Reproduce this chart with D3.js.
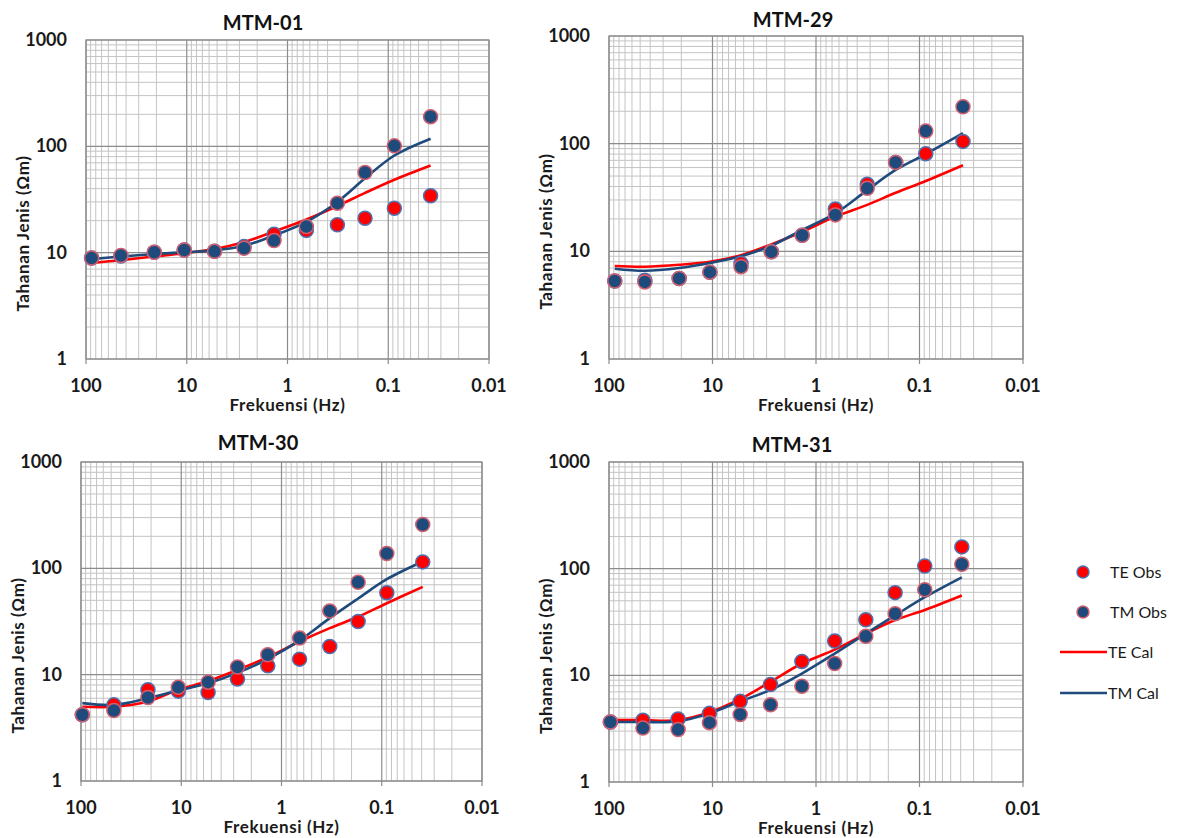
<!DOCTYPE html>
<head>
<meta charset="utf-8">
<style>
  body { margin: 0; background: #fff; }
  text { font-family: Lato, "Open Sans", sans-serif; }
</style>
</head>
<body>
<div id="chart"></div>
<script src="https://cdnjs.cloudflare.com/ajax/libs/d3/7.8.5/d3.min.js"></script>
<script>
var freqA = [88, 45, 21, 10.6, 5.3, 2.7, 1.36, 0.65, 0.32, 0.17, 0.087, 0.038];
var freqB = [97, 47, 21.5, 10.7, 5.4, 2.75, 1.37, 0.66, 0.33, 0.172, 0.089, 0.039];

var xTickLabels = [100, 10, 1, 0.1, 0.01];
var yTickLabels = [1, 10, 100, 1000];

var seriesNames = ['TE Obs', 'TM Obs', 'TE Cal', 'TM Cal'];

// MTM-01
var mtm01TeObs = [8.9, 9.3, 10.1, 10.6, 10.3, 11.4, 14.9, 16.2, 18.3, 21.1, 26.2, 34.3];
var mtm01TmObs = [8.9, 9.4, 10.1, 10.6, 10.3, 11.0, 13.0, 17.6, 29.2, 56.7, 101, 190];
var mtm01TeCal = [8.0, 8.5, 9.2, 9.9, 10.8, 12.6, 15.8, 20.5, 27.5, 36.5, 48.5, 66];
var mtm01TmCal = [8.7, 9.2, 9.7, 10.1, 10.5, 11.6, 14.5, 19.5, 30, 50, 82, 118];

// MTM-29
var mtm29TeObs = [5.3, 5.4, 5.6, 6.4, 7.7, 9.9, 14.1, 24.7, 41.9, 67, 80.7, 105];
var mtm29TmObs = [5.3, 5.2, 5.6, 6.4, 7.2, 9.9, 14.1, 21.8, 38.5, 67, 131, 220];
var mtm29TeCal = [7.3, 7.2, 7.5, 8.0, 9.2, 11.6, 15.2, 21, 27, 35, 45, 63];
var mtm29TmCal = [6.9, 6.6, 7.0, 7.8, 9.0, 11.3, 15.8, 22.5, 37, 57, 80, 125];

// MTM-30
var mtm30TeObs = [4.2, 5.2, 7.2, 7.0, 6.8, 9.1, 12.1, 14.0, 18.4, 31.6, 59, 115];
var mtm30TmObs = [4.2, 4.6, 6.1, 7.6, 8.5, 11.8, 15.4, 22.1, 39.8, 74, 138, 258];
var mtm30TeCal = [5.0, 5.0, 5.6, 7.2, 8.7, 11.1, 14.6, 20.5, 27.4, 35, 47, 67];
var mtm30TmCal = [5.4, 5.2, 6.0, 7.1, 8.3, 10.4, 14.0, 21, 34, 52, 79, 116];

// MTM-31
var mtm31TeObs = [3.65, 3.8, 3.9, 4.4, 5.7, 8.2, 13.5, 21, 33.2, 59.6, 106, 160];
var mtm31TmObs = [3.65, 3.2, 3.1, 3.6, 4.3, 5.3, 7.9, 12.9, 23.2, 37.8, 63.6, 110];
var mtm31TeCal = [3.8, 3.8, 3.8, 4.5, 6.0, 8.7, 12.9, 17.4, 24.6, 33, 41, 56];
var mtm31TmCal = [3.65, 3.65, 3.7, 4.4, 5.7, 7.3, 10.4, 16, 24.6, 36.5, 54, 83];

var panels = [
  {title: 'MTM-01', freq: freqA, teObs: mtm01TeObs, tmObs: mtm01TmObs, teCal: mtm01TeCal, tmCal: mtm01TmCal},
  {title: 'MTM-29', freq: freqA, teObs: mtm29TeObs, tmObs: mtm29TmObs, teCal: mtm29TeCal, tmCal: mtm29TmCal},
  {title: 'MTM-30', freq: freqB, teObs: mtm30TeObs, tmObs: mtm30TmObs, teCal: mtm30TeCal, tmCal: mtm30TmCal},
  {title: 'MTM-31', freq: freqB, teObs: mtm31TeObs, tmObs: mtm31TmObs, teCal: mtm31TeCal, tmCal: mtm31TmCal}
];

// plot boxes, in page pixels
var layout = [
  {left: 86, right: 489, top: 40, bottom: 359, titleX: 263, titleY: 23},
  {left: 609, right: 1023, top: 36, bottom: 359, titleX: 793, titleY: 20},
  {left: 81, right: 482, top: 462, bottom: 781, titleX: 258, titleY: 443},
  {left: 609, right: 1023, top: 462, bottom: 782, titleX: 792, titleY: 445}
];

var RED = '#ff0000';
var NAVY = '#1f4a7c';

var svg = d3.select('#chart').append('svg')
  .attr('width', 1186)
  .attr('height', 838);

panels.forEach(function(p, i) {
  var L = layout[i];
  var x = d3.scaleLog().domain([100, 0.01]).range([L.left, L.right]);
  var y = d3.scaleLog().domain([1, 1000]).range([L.bottom, L.top]);

  var g = svg.append('g').attr('class', 'panel');

  // minor grid first, then major on top
  var xt = x.ticks();
  var yt = y.ticks();
  function isMajor(v) { return Math.abs(Math.log10(v) - Math.round(Math.log10(v))) < 1e-6; }

  g.selectAll('line.xminor').data(xt.filter(function(v) { return !isMajor(v); }))
    .enter().append('line')
    .attr('x1', function(d) { return x(d); }).attr('x2', function(d) { return x(d); })
    .attr('y1', L.top).attr('y2', L.bottom)
    .attr('stroke', '#c4c4c4').attr('stroke-width', 1);
  g.selectAll('line.yminor').data(yt.filter(function(v) { return !isMajor(v); }))
    .enter().append('line')
    .attr('y1', function(d) { return y(d); }).attr('y2', function(d) { return y(d); })
    .attr('x1', L.left).attr('x2', L.right)
    .attr('stroke', '#c4c4c4').attr('stroke-width', 1);
  g.selectAll('line.xmajor').data(xTickLabels)
    .enter().append('line')
    .attr('x1', function(d) { return x(d); }).attr('x2', function(d) { return x(d); })
    .attr('y1', L.top).attr('y2', L.bottom + 5)
    .attr('stroke', '#8c8c8c').attr('stroke-width', 1.2);
  g.selectAll('line.ymajor').data(yTickLabels)
    .enter().append('line')
    .attr('y1', function(d) { return y(d); }).attr('y2', function(d) { return y(d); })
    .attr('x1', L.left).attr('x2', L.right)
    .attr('stroke', '#8c8c8c').attr('stroke-width', 1.2);

  g.append('rect')
    .attr('x', L.left).attr('y', L.top)
    .attr('width', L.right - L.left).attr('height', L.bottom - L.top)
    .attr('fill', 'none').attr('stroke', '#8c8c8c').attr('stroke-width', 1.2);

  // tick labels
  g.selectAll('text.xt').data(xTickLabels).enter().append('text')
    .attr('x', function(d) { return x(d); })
    .attr('y', L.bottom + 33)
    .attr('text-anchor', 'middle')
    .attr('font-size', 18).attr('font-weight', 'bold').attr('fill', '#1a1a1a')
    .text(function(d) { return String(d); });
  g.selectAll('text.yt').data(yTickLabels).enter().append('text')
    .attr('x', L.left - 19)
    .attr('y', function(d) { return y(d) + 6; })
    .attr('text-anchor', 'end')
    .attr('font-size', 18).attr('font-weight', 'bold').attr('fill', '#1a1a1a')
    .text(function(d) { return String(d); });

  // titles
  g.append('text')
    .attr('x', L.titleX).attr('y', L.titleY + 7)
    .attr('text-anchor', 'middle')
    .attr('font-size', 20).attr('font-weight', 'bold').attr('fill', '#111')
    .text(p.title);
  g.append('text')
    .attr('x', (L.left + L.right) / 2).attr('y', L.bottom + 52)
    .attr('text-anchor', 'middle')
    .attr('font-size', 17).attr('font-weight', 'bold').attr('fill', '#1a1a1a')
    .attr('letter-spacing', 0.6)
    .text('Frekuensi (Hz)');
  var yc = (L.top + L.bottom) / 2 + 34;
  g.append('text')
    .attr('transform', 'translate(' + (L.left - 57) + ',' + yc + ') rotate(-90)')
    .attr('text-anchor', 'middle')
    .attr('font-size', 17).attr('font-weight', 'bold').attr('fill', '#1a1a1a')
    .attr('letter-spacing', 0.6)
    .text('Tahanan Jenis (Ωm)');

  // calculated curves
  var line = d3.line()
    .x(function(d) { return x(d[0]); })
    .y(function(d) { return y(d[1]); })
    .curve(d3.curveCatmullRom.alpha(0.5));

  g.append('path')
    .datum(d3.zip(p.freq, p.teCal))
    .attr('d', line)
    .attr('fill', 'none').attr('stroke', RED).attr('stroke-width', 2.6);
  g.append('path')
    .datum(d3.zip(p.freq, p.tmCal))
    .attr('d', line)
    .attr('fill', 'none').attr('stroke', NAVY).attr('stroke-width', 2.6);

  // observed points: TE first, TM on top
  g.selectAll('circle.te').data(d3.zip(p.freq, p.teObs)).enter().append('circle')
    .attr('cx', function(d) { return x(d[0]); })
    .attr('cy', function(d) { return y(d[1]); })
    .attr('r', 7)
    .attr('fill', RED).attr('stroke', '#5070b0').attr('stroke-width', 1.5);
  g.selectAll('circle.tm').data(d3.zip(p.freq, p.tmObs)).enter().append('circle')
    .attr('cx', function(d) { return x(d[0]); })
    .attr('cy', function(d) { return y(d[1]); })
    .attr('r', 7)
    .attr('fill', NAVY).attr('stroke', '#d06070').attr('stroke-width', 1.5);
});

// legend
var legend = svg.append('g').attr('class', 'legend');
var legY = [572, 612, 652, 693];
seriesNames.forEach(function(name, i) {
  var ly = legY[i];
  if (i < 2) {
    legend.append('circle')
      .attr('cx', 1083).attr('cy', ly).attr('r', 6)
      .attr('fill', i === 0 ? RED : NAVY)
      .attr('stroke', i === 0 ? '#5070b0' : '#d06070').attr('stroke-width', 1.5);
  } else {
    legend.append('line')
      .attr('x1', 1060).attr('x2', 1107).attr('y1', ly).attr('y2', ly)
      .attr('stroke', i === 2 ? RED : NAVY).attr('stroke-width', 2.6);
  }
  legend.append('text')
    .attr('x', i < 2 ? 1110 : 1108).attr('y', ly + 6)
    .attr('font-size', 16).attr('fill', '#1a1a1a')
    .text(name);
});
</script>
</body>
</html>
